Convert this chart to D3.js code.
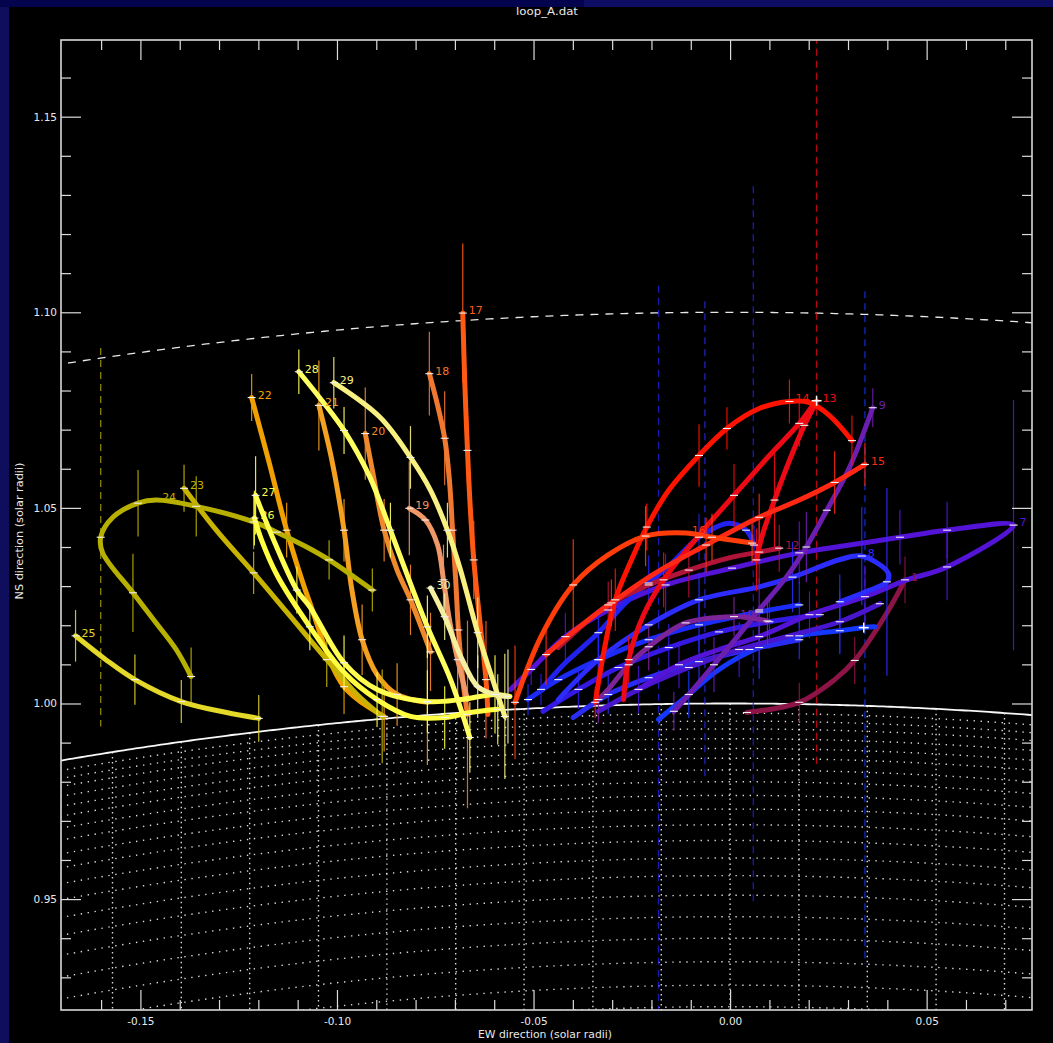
<!DOCTYPE html>
<html><head><meta charset="utf-8">
<script src="https://cdn.jsdelivr.net/npm/d3@7"></script>
<style>
html,body{margin:0;padding:0;background:#0c0c5e;overflow:hidden;}
svg{display:block;}
</style></head><body>
<svg id="chart" width="1053" height="1043"></svg>
<script>
// ---------------- data ----------------
const chartTitle = "loop_A.dat";
const xTitle = "EW direction (solar radii)";
const yTitle = "NS direction (solar radii)";
const xMajorTicks = [-0.15, -0.10, -0.05, 0.00, 0.05];
const yMajorTicks = [0.95, 1.00, 1.05, 1.10, 1.15];
const xMinorTicks = [-0.16,-0.14,-0.13,-0.12,-0.11,-0.09,-0.08,-0.07,-0.06,-0.04,-0.03,-0.02,-0.01,0.01,0.02,0.03,0.04,0.06,0.07];
const yMinorTicks = [0.93,0.94,0.96,0.97,0.98,0.99,1.01,1.02,1.03,1.04,1.06,1.07,1.08,1.09,1.11,1.12,1.13,1.14,1.16];
const limbRadius = 1.0;
const outerRadius = 1.1;
const gridRadii = [0.9975,0.9955,0.9935,0.991,0.9885,0.986,0.983,0.980,0.9765,0.973,0.969,0.965,0.9605,0.956,0.951,0.9455,0.940,0.934,0.928,0.9225];
const meridianX = [-0.1571,-0.1396,-0.1222,-0.1047,-0.0873,-0.0698,-0.0524,-0.0349,-0.0175,0.0,0.0175,0.0349,0.0524,0.0698];

// loops: [x, y, error] ; error<0 : curve point only, 0 : tick only
const loop1 = [[0.0043,0.9977,0],[0.0176,1.0003,0.005],[0.0266,1.0061,-1],[0.0317,1.0110,0.006],[0.0399,1.0232,-1],[0.0445,1.0316,0.006]];
const loop2 = [[-0.0476,0.9980,-1],[-0.0386,1.0036,0.005],[-0.0284,1.0092,0],[-0.0156,1.0143,0.006],[-0.0028,1.0183,0],[0.0100,1.0209,0.007],[0.0228,1.0227,0]];
const loop3 = [[-0.0182,0.9959,-1],[-0.0105,1.0023,0.006],[-0.0028,1.0087,-1],[0.0074,1.0143,0.008],[0.0176,1.0173,0],[0.0279,1.0186,0.006],[0.0340,1.0194,0],[0.0368,1.0196,-1]];
const loop4 = [[-0.0399,0.9964,-1],[-0.0310,1.0023,0.005],[-0.0207,1.0066,0],[-0.0079,1.0107,0.006],[0.0049,1.0138,0],[0.0176,1.0163,0.005]];
const loop5 = [[-0.0335,0.9980,-1],[-0.0233,1.0036,0.006],[-0.0105,1.0092,0],[0.0023,1.0138,0.007],[0.0151,1.0173,0],[0.0279,1.0209,0.008],[0.0381,1.0255,0]];
const loop6 = [[-0.0514,1.0010,0.004],[-0.0437,1.0061,0],[-0.0335,1.0112,0.006],[-0.0207,1.0163,0],[-0.0079,1.0201,0.007],[0.0074,1.0234,0],[0.0176,1.0252,0.006]];
const loop7 = [[-0.0558,1.0036,-1],[-0.0506,1.0087,0.004],[-0.0419,1.0171,0.006],[-0.0310,1.0239,0],[-0.0164,1.0303,0.008],[0.0005,1.0346,0],[0.0176,1.0385,0.008],[0.0304,1.0405,-1],[0.0432,1.0425,0.007],[0.0552,1.0443,0.0073],[0.0721,1.0456,0.032],[0.0552,1.0349,0.0085],[0.0450,1.0316,-1],[0.0343,1.0273,0.008],[0.0279,1.0252,-1],[0.0202,1.0227,0.006],[0.0074,1.0171,0.008],[-0.0028,1.0138,-1],[-0.0130,1.0099,0.006],[-0.0233,1.0036,-1]];
const loop8 = [[-0.0437,1.0010,-1],[-0.0335,1.0112,0.006],[-0.0207,1.0201,0],[-0.0079,1.0265,0.007],[0.0074,1.0298,-1],[0.0159,1.0323,0.009],[0.0280,1.0368,-1],[0.0335,1.0377,0.0125],[0.0402,1.0334,-1],[0.0399,1.0311,0.024],[0.0343,1.0285,-1],[0.0279,1.0260,0.007]];
const loop9 = [[0.0363,1.0756,0.005],[0.0304,1.0604,-1],[0.0246,1.0494,0],[0.0194,1.0400,0.009],[0.0143,1.0323,-1],[0.0074,1.0239,0.008],[0.0023,1.0176,-1],[-0.0041,1.0099,0.007],[-0.0105,1.0023,-1],[-0.0143,0.9980,0.005]];
const loop10 = [[-0.0335,1.0010,0.006],[-0.0310,1.0036,-1],[-0.0258,1.0099,0],[-0.0207,1.0145,0.006],[-0.0113,1.0206,0],[0.0010,1.0222,0.005],[0.0049,1.0219,-1],[0.0095,1.0211,0.006]];
const loop11 = [[-0.0481,1.0036,0.004],[-0.0419,1.0104,-1],[-0.0335,1.0181,0.006],[-0.0266,1.0257,-1],[-0.0207,1.0308,0.007],[-0.0148,1.0359,-1],[-0.0079,1.0425,0.006],[-0.0003,1.0461,-1],[0.0041,1.0443,0],[0.0061,1.0405,0.005]];
const loop12 = [[-0.0437,1.0143,-1],[-0.0310,1.0252,0.006],[-0.0207,1.0303,0],[-0.0105,1.0341,0.007],[0.0005,1.0374,-1],[0.0074,1.0387,0.008],[0.0125,1.0397,0.006]];
const loop13 = [[-0.0271,1.0010,-1],[-0.0258,1.0112,0.006],[-0.0220,1.0227,-1],[-0.0169,1.0316,0.007],[-0.0079,1.0430,-1],[0.0010,1.0532,0.008],[0.0100,1.0634,-1],[0.0176,1.0716,0.006],[0.0220,1.0774,0],[0.0189,1.0711,0],[0.0151,1.0621,-1],[0.0113,1.0520,0.012],[0.0082,1.0430,-1],[0.0067,1.0367,0.008]];
const loop14 = [[-0.0343,1.0003,0.004],[-0.0320,1.0138,-1],[-0.0292,1.0265,0.008],[-0.0251,1.0367,-1],[-0.0212,1.0451,0.006],[-0.0156,1.0545,-1],[-0.0079,1.0634,0.008],[-0.0008,1.0703,0.0054],[0.0074,1.0754,-1],[0.0151,1.0772,0.0056],[0.0202,1.0769,-1],[0.0253,1.0736,-1],[0.0310,1.0672,0.0064]];
const loop15 = [[-0.0468,1.0125,0.0077],[-0.0386,1.0194,-1],[-0.0302,1.0257,0.006],[-0.0189,1.0334,-1],[-0.0061,1.0405,0.007],[0.0074,1.0476,0.006],[0.0176,1.0520,-1],[0.0266,1.0565,0.008],[0.0343,1.0611,0.0055]];
const loop16 = [[-0.0547,1.0003,0.0145],[-0.0481,1.0171,-1],[-0.0399,1.0303,0.0117],[-0.0310,1.0380,-1],[-0.0215,1.0428,0.0077],[-0.0113,1.0436,-1],[-0.0046,1.0425,0.006],[0.0056,1.0410,0.005]];
const loop17 = [[-0.0680,1.0998,0.0178],[-0.0675,1.0825,-1],[-0.0668,1.0647,0.008],[-0.0662,1.0520,-1],[-0.0652,1.0367,0.010],[-0.0637,1.0214,-1],[-0.0621,1.0061,0.015],[-0.0616,0.9972,-1]];
const loop18 = [[-0.0765,1.0843,0.0107],[-0.0744,1.0762,-1],[-0.0726,1.0678,0.012],[-0.0714,1.0571,-1],[-0.0706,1.0443,0.008],[-0.0698,1.0316,-1],[-0.0691,1.0188,0.009],[-0.0680,1.0061,-1],[-0.0668,0.9972,0.024]];
const loop19 = [[-0.0816,1.0499,0.012],[-0.0775,1.0469,0],[-0.0744,1.0405,-1],[-0.0729,1.0316,0.009],[-0.0714,1.0214,-1],[-0.0693,1.0112,0.010],[-0.0668,1.0010,-1]];
const loop20 = [[-0.0928,1.0690,0.0118],[-0.0910,1.0596,-1],[-0.0880,1.0443,0.008],[-0.0847,1.0341,-1],[-0.0813,1.0265,0.009],[-0.0762,1.0132,0.010]];
const loop21 = [[-0.1046,1.0762,0.0115],[-0.1013,1.0622,-1],[-0.0982,1.0443,0.008],[-0.0962,1.0290,-1],[-0.0936,1.0163,0.009],[-0.0898,1.0074,-1],[-0.0847,1.0023,0.008],[-0.0770,1.0003,0.016]];
const loop22 = [[-0.1217,1.0782,0.006],[-0.1172,1.0614,-1],[-0.1128,1.0443,0.007],[-0.1069,1.0257,-1],[-0.0982,1.0043,0.007],[-0.0880,0.9967,0.009]];
const loop23 = [[-0.1389,1.0550,0.006],[-0.1307,1.0443,-1],[-0.1212,1.0334,0.0054],[-0.1128,1.0234,-1],[-0.1026,1.0112,0.007],[-0.0949,1.0023,-1],[-0.0885,0.9967,0.012]];
const loop24 = [[-0.0910,1.0290,0.0055],[-0.1020,1.0367,0.005],[-0.1077,1.0400,-1],[-0.1153,1.0438,0],[-0.1212,1.0464,0.007],[-0.1358,1.0504,0.0077],[-0.1460,1.0520,-1],[-0.1506,1.0512,0.0085],[-0.1570,1.0476,-1],[-0.1601,1.0425,0],[-0.1596,1.0385,-1],[-0.1519,1.0283,0.010],[-0.1460,1.0206,-1],[-0.1409,1.0138,-1],[-0.1371,1.0069,0.0074]];
const loop25 = [[-0.1665,1.0173,0.0066],[-0.1588,1.0112,-1],[-0.1514,1.0061,0.0064],[-0.1396,1.0005,0.0055],[-0.1281,0.9977,-1],[-0.1199,0.9962,0.006]];
const loop26 = [[-0.1210,1.0474,0.007],[-0.1192,1.0418,-1],[-0.1153,1.0329,-1],[-0.1069,1.0196,0.006],[-0.0982,1.0079,-1],[-0.0898,1.0010,0.007],[-0.0813,0.9967,-1],[-0.0726,0.9964,0.008],[-0.0660,0.9977,-1],[-0.0591,0.9985,0.009]];
const loop27 = [[-0.1207,1.0532,0.010],[-0.1161,1.0418,-1],[-0.1102,1.0290,0.006],[-0.1069,1.0247,-1],[-0.0982,1.0104,0.007],[-0.0898,1.0036,-1],[-0.0770,1.0005,0.008],[-0.0685,1.0010,-1],[-0.0598,1.0023,0.010],[-0.0560,1.0018,-1]];
const loop28 = [[-0.1097,1.0848,0.0057],[-0.1038,1.0774,-1],[-0.0982,1.0698,0.006],[-0.0916,1.0578,-1],[-0.0864,1.0443,0.007],[-0.0829,1.0349,-1],[-0.0770,1.0196,0.008],[-0.0711,1.0061,-1],[-0.0662,0.9913,0.009]];
const loop29 = [[-0.1008,1.0820,0.0066],[-0.0890,1.0731,-1],[-0.0813,1.0629,0.008],[-0.0762,1.0545,-1],[-0.0719,1.0443,0.007],[-0.0688,1.0349,-1],[-0.0642,1.0181,0.009],[-0.0598,1.0043,-1],[-0.0573,0.9967,0.016]];
const loop30 = [[-0.0762,1.0295,0],[-0.0726,1.0222,0.006],[-0.0685,1.0120,-1],[-0.0642,1.0043,0.008],[-0.0598,1.0023,-1],[-0.0565,1.0018,0.012]];

const loopIds = [1,2,3,4,5,6,7,8,9,10,11,12,13,14,15,16,17,18,19,20,21,22,23,24,25,26,27,28,29,30];
const loopData = [loop1,loop2,loop3,loop4,loop5,loop6,loop7,loop8,loop9,loop10,loop11,loop12,loop13,loop14,loop15,loop16,loop17,loop18,loop19,loop20,loop21,loop22,loop23,loop24,loop25,loop26,loop27,loop28,loop29,loop30];
const loopColors = ["#8c1446","#3418e4","#1438ff","#2a2cf4","#4816cc","#1c2cf8","#5414d8","#2c2cff","#6c1eb0","#7c2498",
                    "#2222f0","#b01438","#ee0a14","#ff1200","#ff2814","#ff3c0a","#ff5a14","#f07830","#f09868","#f0882c",
                    "#f4a020","#f0a000","#c8b400","#b8b000","#e4d828","#ffff40","#ffff50","#ffff60","#f8f080","#f4f0a0"];
const labeledLoops = [1,7,8,9,10,12,13,14,15,16,17,18,19,20,21,22,23,24,25,26,27,28,29,30];

// dashed (large) error bars
const dashX = [-0.1601, -0.0182, -0.0064, 0.0059, 0.0220, 0.0343];
const dashY = [1.0425, 1.0138, 1.0418, 1.0405, 1.0774, 1.0194];
const dashErr = [0.0484, 0.093, 0.061, 0.0917, 0.093, 0.086];
const dashLoop = [24, 11, 8, 11, 13, 3];
const plusMarks = [[0.0220, 1.0774], [0.0340, 1.0194]];

// ---------------- drawing ----------------
const FONT = "'DejaVu Sans', 'Liberation Sans', sans-serif";
const svg = d3.select("#chart");
const W = 1053, H = 1043;
const L = 61, R = 1032, T = 40, B = 1010;

svg.append("rect").attr("width", W).attr("height", H).attr("fill", "#0e0e5c");
svg.append("rect").attr("x", 0).attr("y", 0).attr("width", 584).attr("height", 7).attr("fill", "#03034e");
svg.append("rect").attr("x", 584).attr("y", 0).attr("width", W - 584).attr("height", 7).attr("fill", "#0d0d64");
svg.append("rect").attr("x", 9).attr("y", 7).attr("width", W - 9).attr("height", H - 7).attr("fill", "#000");

const x = d3.scaleLinear().domain([-0.1702, 0.0768]).range([L, R]);
const y = d3.scaleLinear().domain([0.92165, 1.1696]).range([B, T]);

svg.append("clipPath").attr("id", "plotClip").append("rect")
  .attr("x", L).attr("y", T).attr("width", R - L).attr("height", B - T);
const plot = svg.append("g").attr("clip-path", "url(#plotClip)");

// circle helper (geometry of the solar limb and reference circles)
const xs = d3.range(x.domain()[0] - 0.002, x.domain()[1] + 0.002, 0.001);
const circLine = r => d3.line().x(d => x(d)).y(d => y(Math.sqrt(r * r - d * d)))(xs);

// dotted grid below limb
const grid = plot.append("g");
grid.selectAll("path.lat").data(gridRadii).join("path")
  .attr("d", r => circLine(r)).attr("fill", "none")
  .attr("stroke", "#f0f0f0").attr("stroke-width", 1.4).attr("stroke-dasharray", "1.4 5.6").attr("opacity", 0.9);
grid.selectAll("line.mer").data(meridianX).join("line")
  .attr("x1", d => x(d)).attr("x2", d => x(d))
  .attr("y1", d => y(Math.sqrt(limbRadius * limbRadius - d * d))).attr("y2", B)
  .attr("stroke", "#f0f0f0").attr("stroke-width", 1.4).attr("stroke-dasharray", "1.4 3.6").attr("opacity", 0.9);

// limb and 1.1 circle
plot.append("path").attr("d", circLine(limbRadius)).attr("fill", "none").attr("stroke", "#f8f8f8").attr("stroke-width", 1.8);
plot.append("path").attr("d", circLine(outerRadius)).attr("fill", "none").attr("stroke", "#e8e8e8")
  .attr("stroke-width", 1.3).attr("stroke-dasharray", "8 7");

// dashed large error bars
plot.selectAll("line.dash").data(dashX).join("line")
  .attr("x1", (d) => x(d)).attr("x2", (d) => x(d))
  .attr("y1", (d, i) => y(dashY[i] + dashErr[i])).attr("y2", (d, i) => y(dashY[i] - dashErr[i]))
  .attr("stroke", (d, i) => loopColors[dashLoop[i] - 1]).attr("stroke-width", 1.3)
  .attr("stroke-dasharray", "7 5").attr("opacity", 0.75);

// loops
const line = d3.line().x(d => x(d[0])).y(d => y(d[1])).curve(d3.curveCatmullRom.alpha(0.5));
const loopsG = plot.append("g");
loopIds.forEach((id, i) => {
  const pts = loopData[i];
  const col = loopColors[i];
  const g = loopsG.append("g");
  g.append("path").attr("d", line(pts)).attr("fill", "none").attr("stroke", col)
    .attr("stroke-width", 5).attr("stroke-linecap", "round").attr("stroke-linejoin", "round");
  const bars = pts.filter(p => p[2] > 0);
  g.selectAll("line.err").data(bars).join("line")
    .attr("x1", p => x(p[0])).attr("x2", p => x(p[0]))
    .attr("y1", p => y(p[1] + p[2])).attr("y2", p => y(p[1] - p[2]))
    .attr("stroke", col).attr("stroke-width", 1.2).attr("opacity", 0.9);
});
// white point ticks
loopIds.forEach((id, i) => {
  const pts = loopData[i].filter(p => p[2] >= 0);
  loopsG.append("g").selectAll("line").data(pts).join("line")
    .attr("x1", p => x(p[0]) - 4).attr("x2", p => x(p[0]) + 4)
    .attr("y1", p => y(p[1])).attr("y2", p => y(p[1]))
    .attr("stroke", "#f0f0f0").attr("stroke-width", 1.1);
});
// plus marks
const pm = plot.append("g");
plusMarks.forEach(p => {
  pm.append("line").attr("x1", x(p[0]) - 5).attr("x2", x(p[0]) + 5).attr("y1", y(p[1])).attr("y2", y(p[1])).attr("stroke", "#fff").attr("stroke-width", 1.5);
  pm.append("line").attr("x1", x(p[0])).attr("x2", x(p[0])).attr("y1", y(p[1]) - 5).attr("y2", y(p[1]) + 5).attr("stroke", "#fff").attr("stroke-width", 1.5);
});
// labels at highest point of each loop
labeledLoops.forEach(id => {
  const i = loopIds.indexOf(id);
  const top = loopData[i].reduce((a, b) => (b[1] > a[1] ? b : a));
  plot.append("text").attr("x", x(top[0]) + 6).attr("y", y(top[1]) + 1)
    .attr("fill", loopColors[i]).style("font-family", FONT).style("font-size", "11px").text(id);
});

// axes
function styleAxis(g) {
  g.select(".domain").remove();
  g.selectAll("line").attr("stroke", "#dcdcdc").attr("stroke-width", 1.2);
  g.selectAll("text").attr("fill", "#e8e8e8").style("font-family", FONT).style("font-size", "10.5px");
}
const fmt = d => d.toFixed(2);
svg.append("g").attr("transform", `translate(0,${B})`)
  .call(d3.axisBottom(x).tickValues(xMajorTicks).tickSizeInner(-20).tickSizeOuter(0).tickPadding(8).tickFormat(fmt)).call(styleAxis);
svg.append("g").attr("transform", `translate(0,${B})`)
  .call(d3.axisBottom(x).tickValues(xMinorTicks).tickSizeInner(-10).tickSizeOuter(0).tickFormat("")).call(styleAxis);
svg.append("g").attr("transform", `translate(0,${T})`)
  .call(d3.axisTop(x).tickValues(xMajorTicks).tickSizeInner(-20).tickSizeOuter(0).tickFormat("")).call(styleAxis);
svg.append("g").attr("transform", `translate(0,${T})`)
  .call(d3.axisTop(x).tickValues(xMinorTicks).tickSizeInner(-10).tickSizeOuter(0).tickFormat("")).call(styleAxis);
svg.append("g").attr("transform", `translate(${L},0)`)
  .call(d3.axisLeft(y).tickValues(yMajorTicks).tickSizeInner(-20).tickSizeOuter(0).tickPadding(4).tickFormat(fmt)).call(styleAxis);
svg.append("g").attr("transform", `translate(${L},0)`)
  .call(d3.axisLeft(y).tickValues(yMinorTicks).tickSizeInner(-10).tickSizeOuter(0).tickFormat("")).call(styleAxis);
svg.append("g").attr("transform", `translate(${R},0)`)
  .call(d3.axisRight(y).tickValues(yMajorTicks).tickSizeInner(-20).tickSizeOuter(0).tickFormat("")).call(styleAxis);
svg.append("g").attr("transform", `translate(${R},0)`)
  .call(d3.axisRight(y).tickValues(yMinorTicks).tickSizeInner(-10).tickSizeOuter(0).tickFormat("")).call(styleAxis);

svg.append("rect").attr("x", L).attr("y", T).attr("width", R - L).attr("height", B - T)
  .attr("fill", "none").attr("stroke", "#d8d8d8").attr("stroke-width", 1.6);

// titles
svg.append("text").attr("x", 547).attr("y", 15).attr("text-anchor", "middle")
  .attr("fill", "#e8e8e8").style("font-family", FONT).style("font-size", "11px")
  .attr("textLength", 62).attr("lengthAdjust", "spacingAndGlyphs").text(chartTitle);
svg.append("text").attr("x", 545).attr("y", 1038).attr("text-anchor", "middle")
  .attr("fill", "#e8e8e8").style("font-family", FONT).style("font-size", "11px")
  .attr("textLength", 134).attr("lengthAdjust", "spacingAndGlyphs").text(xTitle);
svg.append("text").attr("transform", "translate(23,531) rotate(-90)").attr("text-anchor", "middle")
  .attr("fill", "#e8e8e8").style("font-family", FONT).style("font-size", "11px")
  .attr("textLength", 137).attr("lengthAdjust", "spacingAndGlyphs").text(yTitle);
</script>
</body></html>
